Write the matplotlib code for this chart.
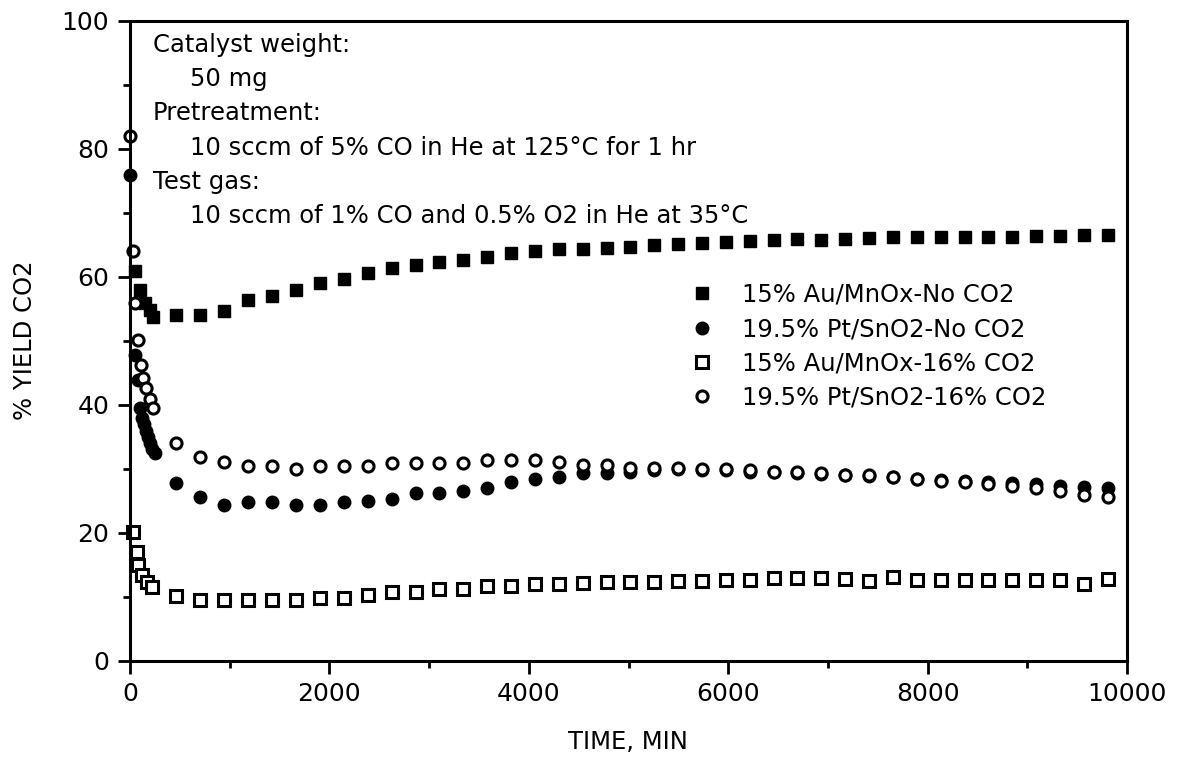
import matplotlib.pyplot as plt
from matplotlib.ticker import MultipleLocator

# tempos (min) comuns a todas as séries, depois dos primeiros pontos
t_main = [465, 705, 945, 1185, 1425, 1665, 1905, 2145, 2385, 2625,
          2865, 3100, 3340, 3580, 3820, 4060, 4300, 4540, 4780, 5020,
          5260, 5500, 5740, 5980, 6220, 6455, 6695, 6935, 7175, 7415,
          7655, 7895, 8135, 8375, 8610, 8850, 9090, 9330, 9570, 9810]

# 15% Au/MnOx - sem CO2
au_no_t0 = [50, 100, 150, 200, 235]
au_no_y0 = [61.0, 58.0, 56.0, 54.8, 53.8]
au_no_y = [54.0, 54.0, 54.7, 56.4, 57.0, 58.0, 59.0, 59.7, 60.6, 61.4,
           61.9, 62.3, 62.7, 63.1, 63.7, 64.0, 64.3, 64.3, 64.5, 64.7,
           65.0, 65.2, 65.3, 65.5, 65.6, 65.8, 66.0, 65.8, 66.0, 66.1,
           66.2, 66.2, 66.2, 66.3, 66.3, 66.3, 66.4, 66.4, 66.5, 66.5]

# 19.5% Pt/SnO2 - sem CO2
pt_no_t0 = [0, 50, 80, 100, 120, 140, 160, 180, 200, 225, 250]
pt_no_y0 = [76.0, 47.8, 43.9, 39.5, 38.0, 37.0, 36.0, 35.0, 34.0, 33.2, 32.5]
pt_no_y = [27.8, 25.7, 24.4, 24.8, 24.8, 24.4, 24.4, 24.9, 25.0, 25.3,
           26.2, 26.2, 26.6, 27.0, 28.0, 28.4, 28.8, 29.3, 29.4, 29.6,
           29.8, 30.0, 29.8, 29.8, 29.6, 29.5, 29.4, 29.2, 29.0, 28.9,
           28.7, 28.5, 28.3, 28.1, 28.0, 27.8, 27.6, 27.4, 27.2, 27.0]

# 15% Au/MnOx - 16% CO2
au_co2_t0 = [33, 67, 83, 117, 167, 217]
au_co2_y0 = [20.2, 17.0, 15.0, 13.4, 12.3, 11.6]
au_co2_y = [10.2, 9.5, 9.5, 9.5, 9.5, 9.5, 9.8, 9.8, 10.3, 10.8,
            10.8, 11.3, 11.3, 11.7, 11.7, 12.0, 12.0, 12.2, 12.4, 12.4,
            12.4, 12.5, 12.5, 12.6, 12.6, 13.0, 13.0, 13.0, 12.8, 12.5,
            13.2, 12.6, 12.6, 12.6, 12.6, 12.6, 12.6, 12.6, 12.1, 12.8]

# 19.5% Pt/SnO2 - 16% CO2
pt_co2_t0 = [0, 30, 50, 80, 115, 135, 165, 200, 235]
pt_co2_y0 = [82.0, 64.0, 56.0, 50.2, 46.3, 44.2, 42.6, 41.0, 39.5]
pt_co2_y = [34.1, 31.9, 31.1, 30.4, 30.4, 30.0, 30.4, 30.4, 30.4, 30.9,
            30.9, 30.9, 30.9, 31.4, 31.4, 31.4, 31.1, 30.6, 30.6, 30.1,
            30.2, 30.2, 30.0, 30.0, 29.8, 29.6, 29.5, 29.3, 29.0, 29.0,
            28.7, 28.5, 28.2, 28.0, 27.7, 27.3, 27.0, 26.5, 26.0, 25.6]

labels = ["15% Au/MnOx-No CO2", "19.5% Pt/SnO2-No CO2",
          "15% Au/MnOx-16% CO2", "19.5% Pt/SnO2-16% CO2"]

plt.rcParams['font.family'] = ['DejaVu Sans']
fs = 17.5

fig = plt.figure(figsize=(11.77, 7.6), dpi=100)
ax = fig.add_axes([130/1177, 1 - 661/760, 997/1177, 640/760])

ax.plot(au_no_t0 + t_main, au_no_y0 + au_no_y, 's', color='black',
        ms=8.5, clip_on=False, label=labels[0])
ax.plot(pt_no_t0 + t_main, pt_no_y0 + pt_no_y, 'o', color='black',
        ms=9, clip_on=False, label=labels[1])
ax.plot(au_co2_t0 + t_main, au_co2_y0 + au_co2_y, 's', mfc='white', mec='black',
        mew=2.2, ms=8, clip_on=False, label=labels[2])
ax.plot(pt_co2_t0 + t_main, pt_co2_y0 + pt_co2_y, 'o', mfc='white', mec='black',
        mew=2.2, ms=8, clip_on=False, label=labels[3])

ax.set_xlim(0, 10000)
ax.set_ylim(0, 100)
ax.xaxis.set_major_locator(MultipleLocator(2000))
ax.xaxis.set_minor_locator(MultipleLocator(1000))
ax.yaxis.set_major_locator(MultipleLocator(20))
ax.yaxis.set_minor_locator(MultipleLocator(10))
ax.tick_params(which='major', direction='out', length=9, width=2, labelsize=18, pad=6)
ax.tick_params(which='minor', direction='out', length=5, width=2)
for s in ax.spines.values():
    s.set_linewidth(2.2)

leg = ax.legend(loc='upper left', bbox_to_anchor=(690/1177, 1 - 283/760),
                bbox_transform=fig.transFigure, frameon=False, fontsize=fs,
                numpoints=1, handlelength=1.0, handletextpad=1.15,
                labelspacing=0.42, borderpad=0, borderaxespad=0)

# texto com as condições do ensaio
notes = [("Catalyst weight:", 153, 52),
         ("50 mg", 190, 86),
         ("Pretreatment:", 153, 120),
         ("10 sccm of 5% CO in He at 125°C for 1 hr", 190, 155),
         ("Test gas:", 153, 189),
         ("10 sccm of 1% CO and 0.5% O2 in He at 35°C", 190, 223)]
for txt, px, py in notes:
    fig.text(px/1177, 1 - py/760, txt, fontsize=fs, va='baseline', ha='left')

fig.text(628/1177, 1 - 742/760, "TIME, MIN", fontsize=fs, ha='center', va='center')
fig.text(25/1177, 1 - 340/760, "% YIELD CO2", fontsize=fs, ha='center', va='center',
         rotation=90)

fig.savefig("out.png", dpi=100)
